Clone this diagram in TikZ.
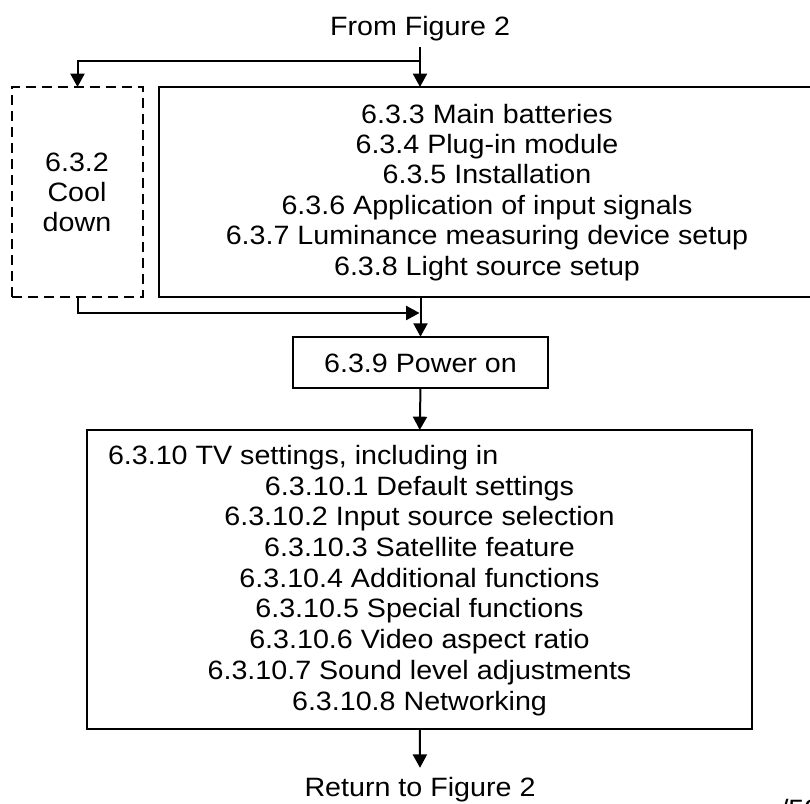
\documentclass[tikz,border=0pt]{standalone}
\usepackage{fontspec}
\setmainfont{Liberation Sans}[FakeStretch=1.08]
\usetikzlibrary{arrows.meta}
\begin{document}
\begin{tikzpicture}[x=0.75pt,y=-0.75pt, line width=1.5pt,
  arr/.style={-{Triangle[length=10pt,width=10.5pt]}},
  boxs/.style={draw, rectangle, inner sep=0pt, outer sep=0pt},
  dashbox/.style={boxs, dash pattern=on 7.5pt off 4.5pt},
  txt/.style={inner sep=0pt, outer sep=0pt, font=\fontsize{19.9pt}{22.8pt}\selectfont}]
\useasboundingbox (0,0) rectangle (810,803);

% boxes
\node[boxs, minimum width=491.25pt, minimum height=157.5pt] (main) at (486.5,192) {};
\node[dashbox, minimum width=98.25pt, minimum height=157.5pt] (cool) at (77.5,192) {};
\node[boxs, minimum width=191.7pt, minimum height=38.25pt] (power) at (420.5,362.2) {};
\node[boxs, minimum width=498.4pt, minimum height=224.5pt] (tv) at (419.75,579.65) {};

% texts
\node[txt, anchor=base, outer ysep=4pt] (fromtxt) at (420,36) {From Figure 2};
\node[txt, anchor=base] (maintxt) at (487,123) {\begin{tabular}[t]{@{}c@{}}6.3.3 Main batteries\\6.3.4 Plug-in module\\6.3.5 Installation\\6.3.6 Application of input signals\\6.3.7 Luminance measuring device setup\\6.3.8 Light source setup\end{tabular}};
\node[txt, anchor=base, font=\fontsize{19.9pt}{22.5pt}\selectfont] (cooltxt) at (77,171.7) {\begin{tabular}[t]{@{}c@{}}6.3.2\\Cool\\down\end{tabular}};
\node[txt, anchor=base] (powertxt) at (420.5,372) {6.3.9 Power on};
\node[txt, anchor=base west] (tv0) at (108,464) {6.3.10 TV settings, including in};
\node[txt, anchor=base, font=\fontsize{19.9pt}{23.06pt}\selectfont] (tvlist) at (419.5,495) {\begin{tabular}[t]{@{}c@{}}6.3.10.1 Default settings\\6.3.10.2 Input source selection\\6.3.10.3 Satellite feature\\6.3.10.4 Additional functions\\6.3.10.5 Special functions\\6.3.10.6 Video aspect ratio\\6.3.10.7 Sound level adjustments\\6.3.10.8 Networking\end{tabular}};
\node[txt, anchor=base, outer ysep=6.75pt] (ret) at (420,796) {Return to Figure 2};
\node[txt, anchor=base west] (pg) at (780.5,818) {/52};

% connectors
\draw[arr] (fromtxt.south) -- (fromtxt.south |- main.north);
\path (fromtxt.south) ++(0,14) coordinate (j1);
\draw[arr] (j1) -| (cool.north);
\draw[arr] (power.north |- main.south) -- (power.north);
\path (cool.south) ++(0,16) coordinate (j2);
\draw[arr] (cool.south) |- ([xshift=-0.75pt]j2 -| power.north);
\draw[arr] (power.south) -- (tv.north);
\draw[arr] (tv.south) -- (ret.north);
\end{tikzpicture}
\end{document}
